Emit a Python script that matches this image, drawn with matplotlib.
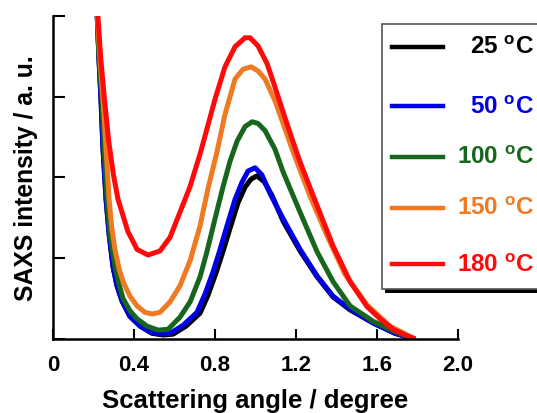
import matplotlib
matplotlib.use("Agg")
from matplotlib import pyplot as plt
from matplotlib.lines import Line2D
from matplotlib.patches import Rectangle

plt.rcParams['font.family'] = ['Liberation Sans', 'DejaVu Sans']
plt.rcParams['font.weight'] = 'bold'
plt.rcParams['mathtext.fontset'] = 'custom'
plt.rcParams['mathtext.rm'] = 'Liberation Sans:bold'
plt.rcParams['mathtext.bf'] = 'Liberation Sans:bold'

# data (angle in degree, intensity in a.u.)
x_25 = [0.217, 0.227, 0.237, 0.247, 0.262, 0.277, 0.296, 0.316, 0.341, 0.380, 0.430, 0.489, 0.543,
        0.593, 0.657, 0.726, 0.765, 0.805, 0.840, 0.874, 0.914, 0.948, 0.978, 1.007, 1.042, 1.081,
        1.136, 1.220, 1.304, 1.383, 1.467, 1.580, 1.689, 1.788]
y_25 = [4.09, 3.47, 2.97, 2.35, 1.73, 1.30, 0.90, 0.66, 0.47, 0.28, 0.16, 0.07, 0.05,
        0.06, 0.16, 0.32, 0.54, 0.82, 1.09, 1.37, 1.69, 1.88, 1.98, 2.02, 1.95, 1.78,
        1.46, 1.09, 0.77, 0.52, 0.36, 0.20, 0.07, 0.0]

x_50 = [0.217, 0.227, 0.237, 0.247, 0.262, 0.277, 0.296, 0.316, 0.341, 0.380, 0.430, 0.479, 0.528,
        0.578, 0.642, 0.711, 0.751, 0.790, 0.825, 0.859, 0.899, 0.933, 0.963, 0.998, 1.032, 1.072,
        1.136, 1.220, 1.304, 1.383, 1.467, 1.580, 1.689, 1.788]
y_50 = [4.09, 3.47, 2.97, 2.35, 1.73, 1.30, 0.90, 0.66, 0.47, 0.28, 0.16, 0.09, 0.06,
        0.07, 0.17, 0.33, 0.56, 0.83, 1.11, 1.40, 1.73, 1.94, 2.08, 2.12, 2.03, 1.80,
        1.49, 1.11, 0.78, 0.53, 0.37, 0.20, 0.07, 0.0]

x_100 = [0.217, 0.227, 0.242, 0.252, 0.267, 0.281, 0.306, 0.326, 0.346, 0.380, 0.415, 0.464, 0.519,
         0.568, 0.627, 0.677, 0.726, 0.760, 0.800, 0.840, 0.874, 0.909, 0.948, 0.983, 1.012, 1.047,
         1.096, 1.136, 1.220, 1.304, 1.383, 1.467, 1.580, 1.689, 1.788]
y_100 = [4.09, 3.47, 2.97, 2.35, 1.73, 1.30, 0.90, 0.68, 0.50, 0.35, 0.25, 0.16, 0.11,
         0.12, 0.27, 0.46, 0.77, 1.08, 1.49, 1.89, 2.20, 2.45, 2.63, 2.69, 2.67, 2.58,
         2.35, 2.07, 1.57, 1.08, 0.71, 0.41, 0.22, 0.09, 0.0]

x_150 = [0.217, 0.232, 0.247, 0.262, 0.277, 0.291, 0.306, 0.326, 0.346, 0.380, 0.415, 0.454, 0.489,
         0.528, 0.578, 0.627, 0.677, 0.726, 0.765, 0.810, 0.849, 0.899, 0.938, 0.978, 1.012, 1.047,
         1.096, 1.146, 1.185, 1.269, 1.353, 1.442, 1.551, 1.664, 1.788]
y_150 = [4.09, 3.47, 2.97, 2.35, 1.73, 1.36, 1.11, 0.87, 0.71, 0.53, 0.41, 0.33, 0.31,
         0.33, 0.46, 0.66, 0.97, 1.40, 1.86, 2.32, 2.78, 3.22, 3.34, 3.37, 3.32, 3.22,
         2.95, 2.60, 2.32, 1.77, 1.28, 0.80, 0.42, 0.16, 0.0]

x_180 = [0.219, 0.236, 0.254, 0.275, 0.298, 0.321, 0.370, 0.415, 0.469, 0.528, 0.578, 0.627, 0.677,
         0.726, 0.760, 0.800, 0.849, 0.899, 0.948, 0.973, 1.012, 1.057, 1.096, 1.136, 1.180, 1.220,
         1.304, 1.383, 1.467, 1.551, 1.615, 1.679, 1.738, 1.788]
y_180 = [4.09, 3.47, 2.97, 2.45, 2.04, 1.73, 1.33, 1.11, 1.04, 1.09, 1.26, 1.57, 1.89,
         2.29, 2.60, 2.97, 3.37, 3.62, 3.73, 3.73, 3.63, 3.41, 3.12, 2.81, 2.48, 2.19,
         1.65, 1.15, 0.71, 0.40, 0.25, 0.12, 0.05, 0.0]

labels = ['25', '50', '100', '150', '180']
colors = ['#000000', '#0000e6', '#17661e', '#f07a22', '#ff0a0a']
xs = [x_25, x_50, x_100, x_150, x_180]
ys = [y_25, y_50, y_100, y_150, y_180]

fig = plt.figure(figsize=(5.37, 4.14), dpi=100)
ax = fig.add_axes([0.0987, 0.1787, 0.7543, 0.7803])

for xv, yv, c in zip(xs, ys, colors):
    ax.plot(xv, yv, color=c, lw=3.6, solid_joinstyle='round', solid_capstyle='butt')

ax.set_xlim(0, 2.0)
ax.set_ylim(0, 4)
ax.set_xticks([0, 0.4, 0.8, 1.2, 1.6, 2.0])
ax.set_xticklabels(['0', '0.4', '0.8', '1.2', '1.6', '2.0'])
ax.set_yticks([0, 1, 2, 3, 4])
ax.set_yticklabels([])
ax.spines['top'].set_visible(False)
ax.spines['right'].set_visible(False)
for s in ['left', 'bottom']:
    ax.spines[s].set_linewidth(1.8)
ax.tick_params(axis='x', direction='in', length=7.5, width=1.5, labelsize=16, pad=11)
ax.tick_params(axis='y', direction='in', length=8.5, width=1.5)
ax.set_xlabel('Scattering angle / degree', fontsize=18.5, fontweight='bold', labelpad=9)
ax.set_ylabel('SAXS intensity / a. u.', fontsize=17.8, fontweight='bold', labelpad=7)

# legend box, drawn by hand so labels sit right-aligned like the original
W, H = 537.0, 414.0
fig.patches.append(Rectangle((385 / W, (H - 294) / H), 170 / W, 268 / H,
                             transform=fig.transFigure, facecolor='black', edgecolor='none', zorder=5))
fig.patches.append(Rectangle((382 / W, (H - 290) / H), 170 / W, 265 / H,
                             transform=fig.transFigure, facecolor='white', edgecolor='#555555',
                             lw=1.2, zorder=6))
rows = [48, 107, 158, 209, 265]
for lab, c, r in zip(labels, colors, rows):
    yf = (H - r) / H
    fig.lines.append(Line2D([392 / W, 443 / W], [yf, yf], transform=fig.transFigure,
                            color=c, lw=3.2, zorder=7))
    fig.text(534 / W, yf, lab + r' $^{\mathbf{o}}$C', color=c, fontsize=17.5, fontweight='bold',
             ha='right', va='center', zorder=8)

fig.savefig('out.png', dpi=100)
